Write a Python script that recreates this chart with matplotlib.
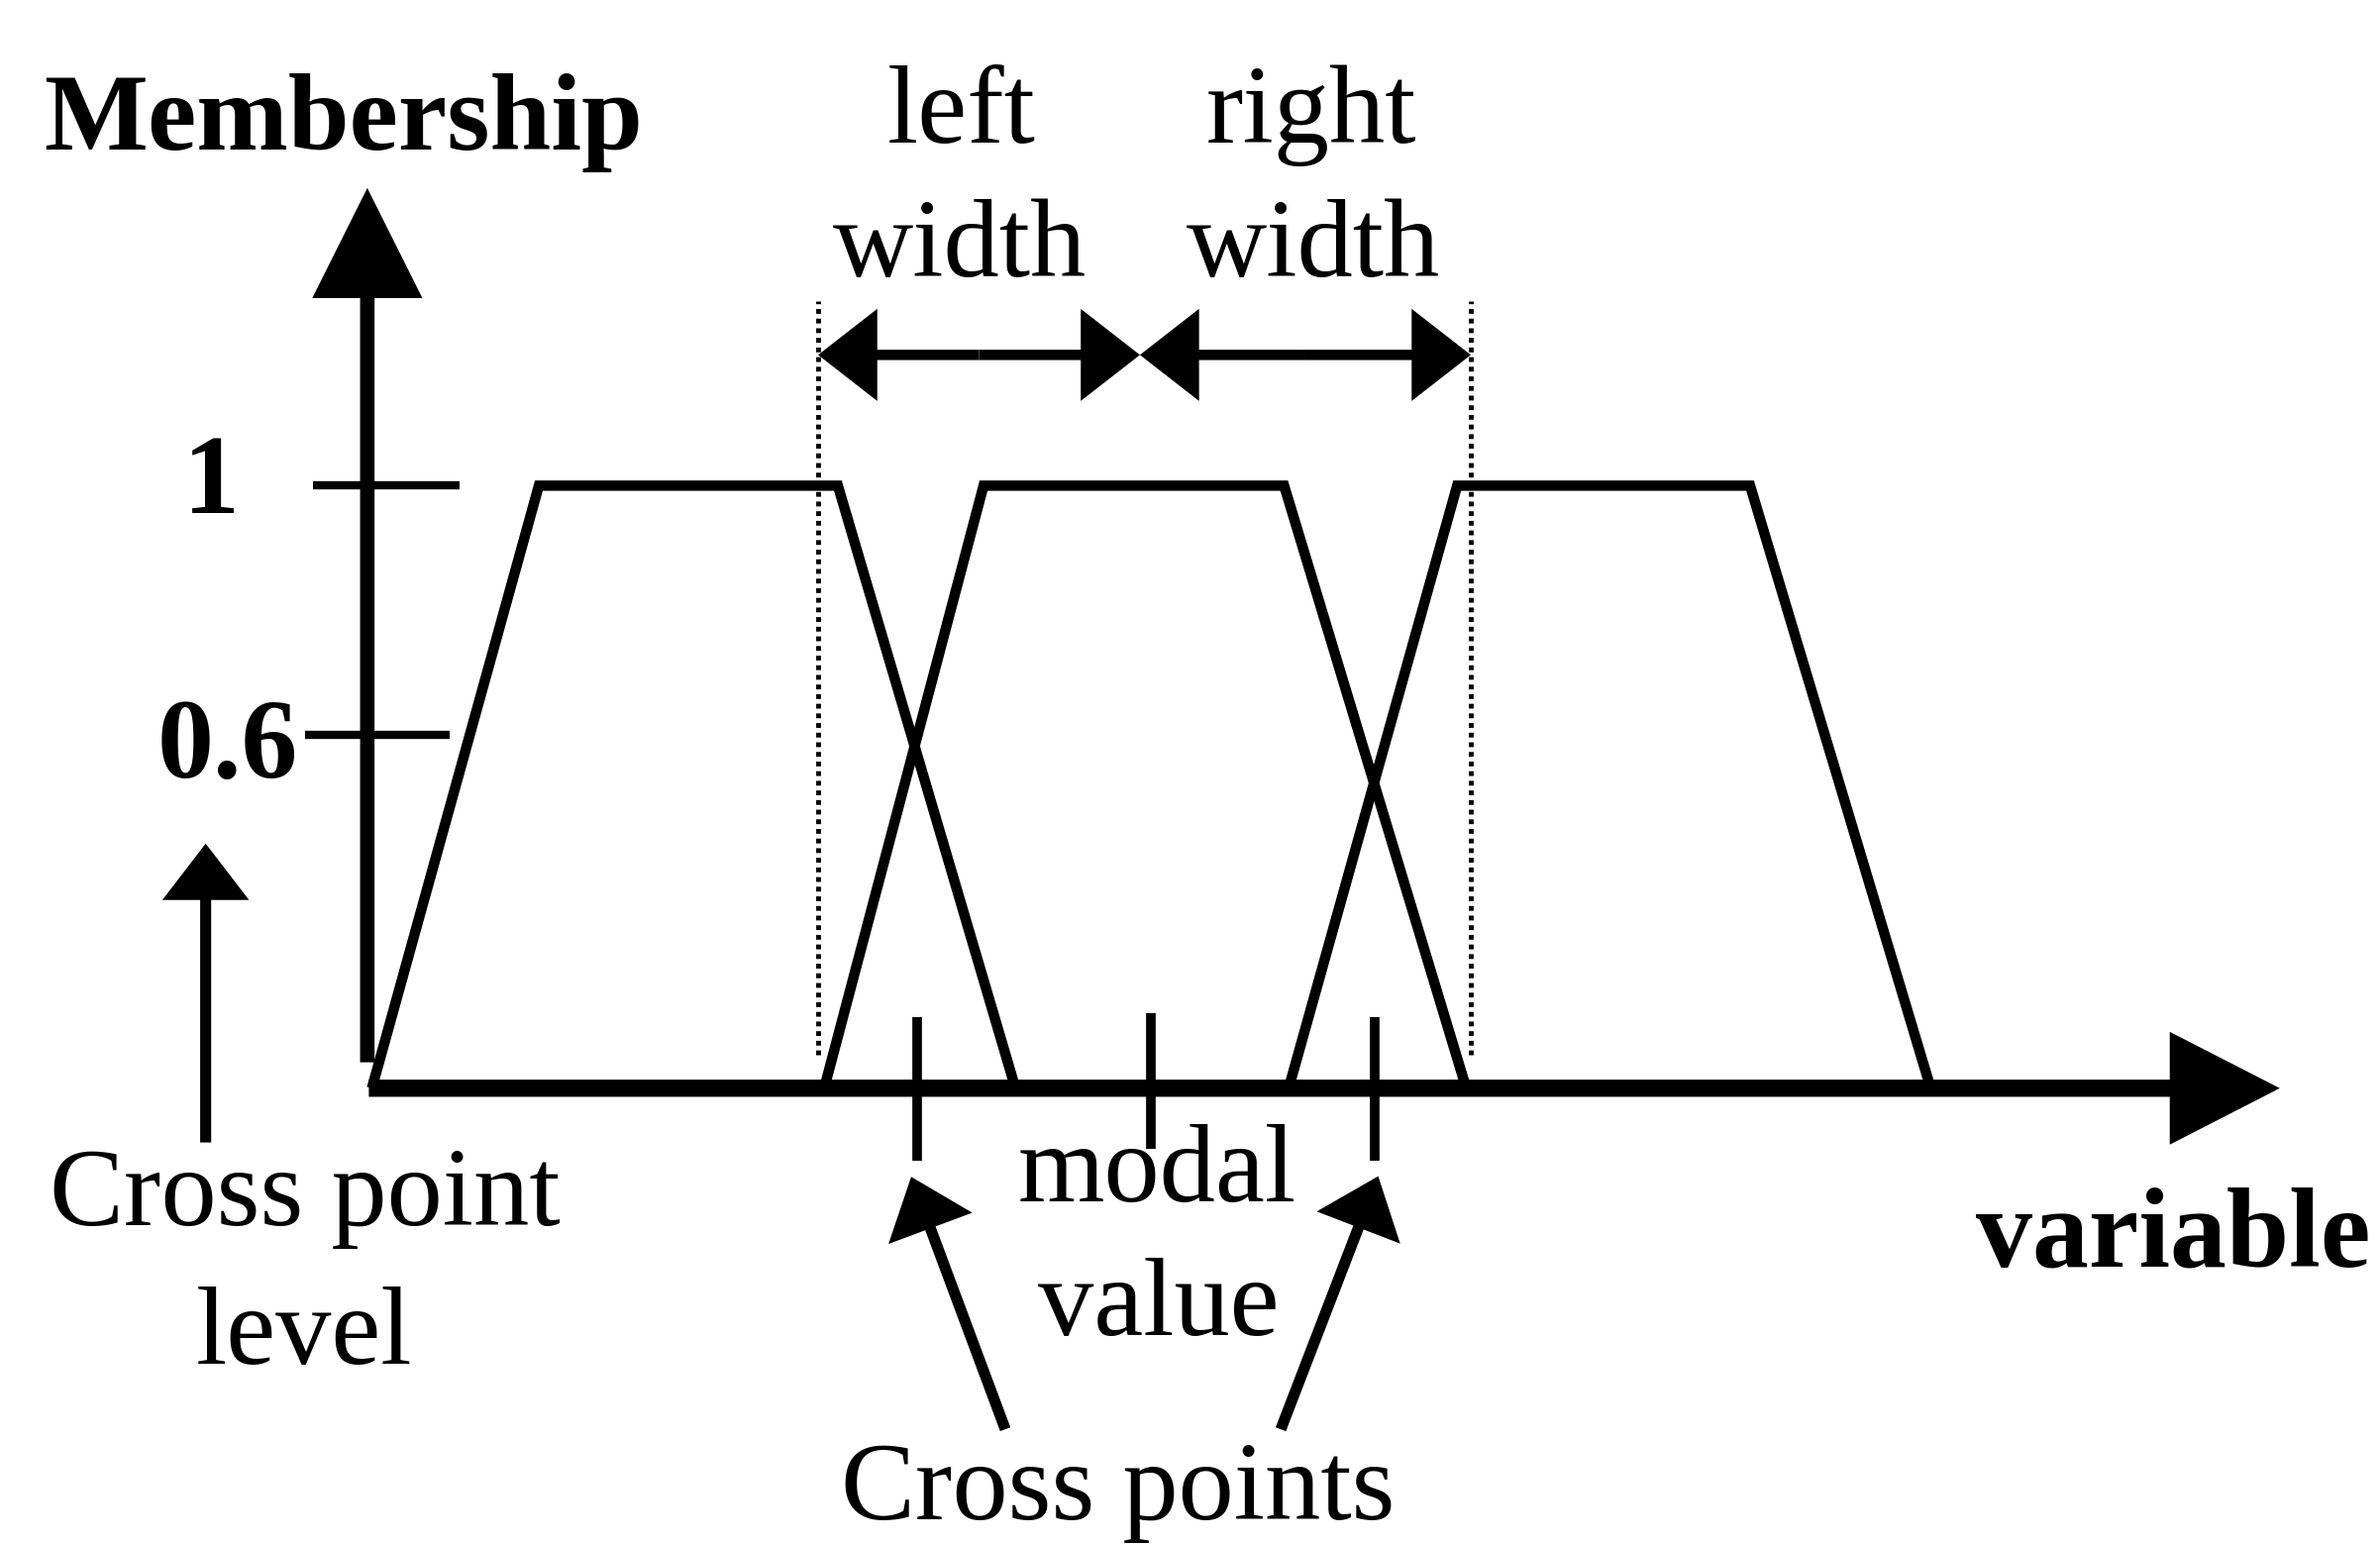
import matplotlib
matplotlib.use('Agg')
import matplotlib.pyplot as plt

# corner points of the three trapezoidal membership functions
mf_left = [0.02, 1.12, 3.09, 4.26]
mf_mid = [3.00, 4.05, 6.03, 7.23]
mf_right = [6.06, 7.17, 9.10, 10.29]
mf_level = [0, 1, 1, 0]

cross_points = [3.615, 6.63]
modal_value = 5.155
cross_level = 0.586
ytick_vals = [1.0, cross_level]
ytick_labels = ['1', '0.6']
width_edges = [2.96, 5.08, 7.26]   # left edge, middle, right edge
width_y = 1.217

plt.rcParams['font.family'] = ['Liberation Serif', 'DejaVu Serif']

fig = plt.figure(figsize=(24.03, 15.59), dpi=100)
ax = fig.add_axes([0, 0, 1, 1])
ax.set_xlim(-2.43, 13.25)
ax.set_ylim(-0.7564, 1.806)
ax.axis('off')


def arrow(tail, tip, hl, hw, tw):
    style = f'simple,head_length={hl},head_width={hw},tail_width={tw}'
    ax.annotate('', xy=tip, xytext=tail,
                arrowprops=dict(arrowstyle=style, mutation_scale=1,
                                fc='black', ec='none', lw=0,
                                shrinkA=0, shrinkB=0))


# axes
arrow((0.0, 0.0), (12.59, 0.0), 80, 82, 12.5)
arrow((-0.01, 0.043), (-0.01, 1.494), 80, 80, 10.5)

# membership functions
for mf in (mf_left, mf_mid, mf_right):
    ax.plot(mf, mf_level, color='black', lw=7.5, solid_joinstyle='miter',
            solid_capstyle='butt')

# ticks on the membership axis
ax.hlines(ytick_vals[0], -0.37, 0.60, color='black', lw=6)
ax.hlines(ytick_vals[1], -0.42, 0.53, color='black', lw=6)
ax.text(-1.04, 0.955, ytick_labels[0], ha='center', va='baseline',
        fontsize=82, fontweight='bold')
ax.text(-0.93, 0.516, ytick_labels[1], ha='center', va='baseline',
        fontsize=82, fontweight='bold')

# cross points and modal value ticks
ax.vlines(cross_points, -0.121, 0.118, color='black', lw=7)
ax.vlines(modal_value, -0.10, 0.124, color='black', lw=7)

# dotted width limits
ax.vlines([width_edges[0], width_edges[2]], 0.055, 1.307, color='black',
          lw=3.5, linestyles=(0, (1, 1)))

# left / right width double arrows
for a, b in ((width_edges[0], width_edges[1]), (width_edges[1], width_edges[2])):
    m = (a + b) / 2
    arrow((m, width_y), (a, width_y), 43, 67, 7.5)
    arrow((m, width_y), (b, width_y), 43, 67, 7.5)

# annotation arrows
arrow((-1.075, -0.09), (-1.075, 0.406), 41, 63, 8)
arrow((4.193, -0.566), (3.573, -0.147), 40, 65, 8)
arrow((6.008, -0.566), (6.65, -0.146), 40, 65, 8)

fs = 81
ax.text(-0.17, 1.557, 'Membership', ha='center', va='baseline',
        fontsize=80, fontweight='bold')
ax.text(3.905, 1.569, 'left', ha='center', va='baseline', fontsize=fs)
ax.text(3.895, 1.348, 'width', ha='center', va='baseline', fontsize=fs)
ax.text(6.21, 1.569, 'right', ha='center', va='baseline', fontsize=fs)
ax.text(6.22, 1.348, 'width', ha='center', va='baseline', fontsize=fs)
ax.text(-0.42, -0.227, 'Cross point', ha='center', va='baseline', fontsize=fs)
ax.text(-0.43, -0.458, 'level', ha='center', va='baseline', fontsize=fs)
ax.text(5.19, -0.188, 'modal', ha='center', va='baseline', fontsize=fs)
ax.text(5.205, -0.41, 'value', ha='center', va='baseline', fontsize=fs)
ax.text(4.935, -0.715, 'Cross points', ha='center', va='baseline', fontsize=fs)
ax.text(13.185, -0.295, 'variable', ha='right', va='baseline',
        fontsize=82, fontweight='bold')

fig.savefig('out.png', dpi=100, facecolor='white')
